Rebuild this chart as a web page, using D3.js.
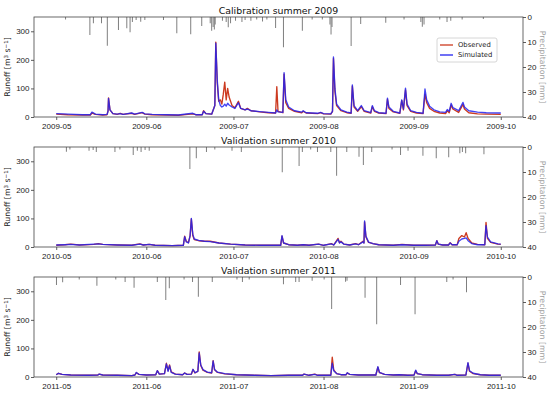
<!DOCTYPE html>
<html lang="en">
<head>
<meta charset="UTF-8">
<style>
  body { margin: 0; background: #fff; }
  svg { font-family: "DejaVu Sans", sans-serif; }
  .axis path { display: none; }
  .axis line { stroke: #333; stroke-width: 0.8px; }
  .axis text { font-size: 8px; fill: #1a1a1a; }
  .line { fill: none; stroke-width: 1.35px; stroke-linejoin: round; }
  .frame { fill: none; stroke: #444; stroke-width: 0.8px; }
  .rain { stroke: #7f7f7f; stroke-width: 1px; }
</style>
</head>
<body>
<svg width="550" height="394"></svg>
<script src="https://cdnjs.cloudflare.com/ajax/libs/d3/7.8.5/d3.min.js"></script>
<script>

// runoff rows: [date "MM-DD HH", observed, simulated]  (m3/s)
var runoff2009 = [
  ["05-01 00",10,12],["05-05 00",8,10],["05-10 00",7,8],["05-12 18",7,8],["05-13 07",14,17],["05-14 12",9,10],
  ["05-17 00",7,8],["05-18 12",8,9],["05-18 20",22,20],["05-19 00",67,65],["05-19 12",25,25],["05-20 12",12,12],
  ["05-22 00",9,10],["05-23 00",13,12],["05-24 00",9,9],["05-27 00",13,14],["05-28 00",9,10],["05-30 14",15,16],
  ["05-31 12",10,11],["06-03 00",8,9],["06-08 00",7,8],["06-12 00",6,7],["06-17 00",11,13],["06-18 00",8,8],
  ["06-20 06",8,8],["06-20 17",22,20],["06-21 12",12,12],["06-23 12",10,10],["06-24 14",40,40],["06-24 22",262,258],
  ["06-25 10",120,130],["06-25 22",55,60],["06-26 12",60,40],["06-27 00",45,35],["06-27 12",80,38],["06-28 00",122,45],
  ["06-28 12",60,38],["06-29 00",100,48],["06-29 12",70,42],["06-30 12",40,35],["07-01 12",32,30],["07-02 17",55,50],
  ["07-03 12",30,30],["07-05 00",25,25],["07-05 19",30,28],["07-07 00",22,22],["07-10 00",18,19],["07-13 00",15,16],
  ["07-15 12",14,14],["07-15 22",106,25],["07-16 08",20,18],["07-18 00",15,16],["07-18 10",150,155],["07-19 00",50,60],
  ["07-20 00",30,35],["07-22 00",20,22],["07-24 12",15,17],["07-25 00",20,22],["07-26 00",14,15],["07-30 00",12,13],
  ["07-31 00",15,16],["08-01 00",11,12],["08-03 12",10,11],["08-04 02",20,20],["08-04 10",205,210],["08-04 22",90,100],
  ["08-05 12",40,45],["08-07 00",22,25],["08-09 00",15,17],["08-10 12",13,14],["08-10 22",108,112],["08-11 12",35,40],
  ["08-12 18",20,22],["08-14 00",36,40],["08-15 00",20,22],["08-17 06",14,15],["08-17 19",36,40],["08-18 12",20,22],
  ["08-20 00",14,15],["08-22 12",12,13],["08-23 00",62,66],["08-23 12",30,35],["08-25 00",18,20],["08-27 06",13,14],
  ["08-27 22",58,60],["08-28 12",25,28],["08-29 05",95,101],["08-29 18",40,45],["08-31 00",20,22],["09-02 00",14,16],
  ["09-04 06",12,13],["09-04 22",80,98],["09-05 12",50,60],["09-06 12",30,38],["09-08 00",20,25],["09-10 00",14,18],
  ["09-12 00",12,16],["09-12 14",22,26],["09-13 06",15,20],["09-13 22",42,48],["09-14 12",28,33],["09-16 12",16,22],
  ["09-18 00",44,51],["09-18 12",28,35],["09-20 00",15,22],["09-23 00",11,17],["09-26 00",10,15],["10-01 00",9,14]
];
var runoff2010 = [
  ["05-01 00",6,7],["05-04 00",8,8],["05-06 00",10,9],["05-09 00",7,7],["05-14 00",9,10],["05-15 12",12,11],
  ["05-17 00",9,9],["05-22 00",7,7],["05-27 00",6,6],["05-29 19",11,10],["05-31 00",7,7],["06-02 00",9,9],
  ["06-04 00",6,6],["06-10 00",5,5],["06-13 18",6,6],["06-14 05",38,36],["06-14 18",20,18],["06-15 12",15,14],
  ["06-16 02",40,40],["06-16 12",98,100],["06-17 00",40,45],["06-17 12",26,28],["06-19 00",22,23],["06-21 00",20,20],
  ["06-23 00",20,19],["06-26 00",14,14],["06-30 00",10,10],["07-05 00",7,7],["07-10 00",6,6],["07-17 06",6,6],
  ["07-17 17",38,40],["07-18 06",14,14],["07-20 00",8,8],["07-23 00",6,6],["07-25 00",8,8],["07-27 00",6,6],
  ["07-30 07",10,10],["08-01 00",6,6],["08-03 17",12,11],["08-04 12",7,7],["08-06 00",30,27],["08-06 12",15,14],
  ["08-07 00",20,18],["08-08 00",10,10],["08-10 00",7,7],["08-12 00",12,11],["08-13 00",8,8],["08-14 14",20,18],
  ["08-14 22",14,14],["08-15 03",88,91],["08-15 14",35,38],["08-16 12",16,17],["08-18 00",12,12],["08-20 00",8,8],
  ["08-25 00",6,6],["08-28 00",9,8],["09-01 00",6,6],["09-05 00",6,6],["09-08 12",7,7],["09-09 00",22,22],
  ["09-09 12",10,10],["09-11 00",7,7],["09-13 00",7,7],["09-13 14",15,14],["09-14 06",8,8],["09-16 00",8,8],
  ["09-16 14",30,20],["09-17 14",40,28],["09-18 12",35,30],["09-19 02",50,32],["09-19 18",30,22],["09-21 00",14,12],
  ["09-23 00",9,8],["09-25 12",8,8],["09-25 22",86,75],["09-26 10",30,35],["09-27 12",16,18],["09-30 00",10,11],
  ["10-01 00",9,10]
];
var runoff2011 = [
  ["05-01 00",8,8],["05-01 18",13,13],["05-03 00",9,9],["05-06 00",7,7],["05-12 00",6,6],["05-15 08",7,7],
  ["05-15 19",10,10],["05-17 00",7,7],["05-22 00",6,6],["05-27 00",5,5],["05-28 02",7,7],["05-28 14",15,16],
  ["05-29 12",9,9],["06-01 00",7,7],["06-04 06",8,8],["06-04 19",22,22],["06-05 12",10,10],["06-07 06",12,12],
  ["06-07 22",48,46],["06-08 12",22,20],["06-09 00",42,40],["06-09 14",18,16],["06-11 00",10,10],["06-13 12",8,8],
  ["06-14 05",14,14],["06-15 00",9,9],["06-16 12",10,10],["06-17 02",26,27],["06-17 18",14,15],["06-18 18",20,20],
  ["06-19 05",88,84],["06-19 18",40,42],["06-20 12",24,26],["06-22 00",16,17],["06-23 12",14,15],["06-24 00",57,56],
  ["06-24 12",25,26],["06-25 12",16,17],["06-28 00",11,12],["07-02 00",8,8],["07-08 00",6,6],["07-14 00",5,5],
  ["07-20 00",6,6],["07-24 18",6,6],["07-25 07",10,10],["07-27 00",6,6],["07-29 00",10,9],["07-30 00",6,6],
  ["08-03 12",6,6],["08-04 00",69,48],["08-04 12",25,22],["08-05 12",12,12],["08-07 00",8,8],["08-08 18",8,8],
  ["08-09 05",14,15],["08-10 00",9,9],["08-13 00",7,7],["08-16 00",7,7],["08-19 00",7,7],["08-19 17",34,36],
  ["08-20 06",15,16],["08-22 00",9,9],["08-25 00",7,7],["08-27 00",8,8],["08-30 00",6,6],["09-01 04",7,7],
  ["09-01 17",22,24],["09-02 06",12,12],["09-04 00",8,8],["09-09 00",6,6],["09-13 00",6,6],["09-15 05",9,9],
  ["09-16 00",6,6],["09-19 00",7,7],["09-19 17",48,50],["09-20 06",20,22],["09-21 12",12,13],["09-24 00",8,8],
  ["09-27 00",6,6],["10-01 00",6,6]
];

// precipitation rows: [date "MM-DD HH", mm]
var precip2009 = [
  ["05-04 05",1],["05-12 14",7.2],["05-13 19",2.5],["05-16 14",2.5],["05-18 14",11.5],["05-22 10",5.2],["05-25 07",4.5],
  ["05-26 10",6.1],["05-27 05",2],["05-28 12",1.2],["05-30 02",1.9],["05-31 12",1.2],["06-06 22",1.2],["06-11 12",6.5],
  ["06-16 07",6.9],["06-20 02",3.6],["06-23 00",2.5],["06-23 12",5.5],["06-24 00",4],["06-24 10",5],["06-24 17",3],
  ["06-27 05",1.5],["06-28 12",2],["06-29 05",4.1],["06-30 00",2.5],["07-01 17",1.5],["07-03 22",2],["07-05 00",1.2],
  ["07-07 00",1.5],["07-09 00",1],["07-11 00",1.8],["07-12 12",1],["07-15 12",4.4],["07-18 05",12.1],["07-24 17",5.5],
  ["07-28 02",1],["07-31 14",1],["08-03 05",3],["08-03 14",7],["08-03 22",4],["08-10 12",11.6],["08-13 19",2.8],
  ["08-22 10",2.3],["08-28 17",1],["09-03 12",2],["09-04 00",3.9],["09-04 14",3],["09-10 00",1],["09-12 12",2],
  ["09-13 19",1.5],["09-17 17",1],["09-25 00",0.8]
];
var precip2010 = [
  ["05-04 12",1.9],["05-05 17",1],["05-12 07",1.5],["05-13 17",1.2],["05-14 19",2],["05-21 05",2],["05-22 22",1],
  ["05-27 12",3.2],["05-28 22",1.5],["05-30 05",2],["05-31 14",1.2],["06-02 00",1.5],["06-16 00",8.8],["06-18 05",4.5],
  ["06-21 17",2],["06-24 14",1],["06-30 12",1.5],["07-03 17",2],["07-17 19",10.1],["07-23 14",7.6],["07-24 17",2],
  ["07-27 14",1],["07-29 22",2],["08-03 12",2],["08-05 12",11.5],["08-09 00",2],["08-13 05",3.9],["08-14 17",7.2],
  ["08-17 14",2],["08-24 14",1],["08-27 12",3.2],["08-30 02",1.5],["09-04 05",3.5],["09-08 19",4.5],["09-13 02",4.1],
  ["09-16 22",2.5],["09-17 19",2],["09-18 22",2.5],["09-25 05",2.9]
];
var precip2011 = [
  ["05-01 02",3.2],["05-03 05",2.1],["05-08 22",1],["05-15 00",3.5],["05-21 12",1],["05-24 17",2],["05-27 19",4.3],
  ["06-04 19",2],["06-07 17",9.2],["06-08 22",4.5],["06-14 00",1],["06-16 22",2],["06-18 22",7.9],["06-23 17",2],
  ["07-02 05",1],["07-04 02",2],["07-06 10",1],["07-18 05",2.9],["07-22 10",2],["07-23 14",2],["07-28 02",1.5],
  ["08-01 05",1],["08-03 19",12.8],["08-08 14",1.9],["08-09 02",1.5],["08-15 07",8.3],["08-19 07",18.9],["08-27 12",3.2],
  ["09-01 12",14.9],["09-12 10",2],["09-14 14",1],["09-19 05",6.1]
];

var titles = ["Calibration summer 2009", "Validation summer 2010", "Validation summer 2011"];
var years = [2009, 2010, 2011];
var runoffs = [runoff2009, runoff2010, runoff2011];
var precips = [precip2009, precip2010, precip2011];
var runoffTicks = [0, 100, 200, 300];
var precipTicks = [0, 10, 20, 30, 40];
var seriesNames = ["Observed", "Simulated"];

var obsColor = "#cc3a20", simColor = "#2222f0";

var svg = d3.select("svg"),
    margin = {left: 34, right: 27},
    width = +svg.attr("width") - margin.left - margin.right,
    panelH = 100,
    panelTops = [17, 147, 277];

var parse = d3.timeParse("%Y-%m-%d %H");

years.forEach(function(year, i) {
    var g = svg.append("g").attr("transform", "translate(" + margin.left + "," + panelTops[i] + ")");

    var start = parse(year + "-05-01 00"), end = parse(year + "-10-01 00");
    var pad = (end - start) * 0.05;

    var x = d3.scaleTime().domain([new Date(+start - pad), new Date(+end + pad)]).range([0, width]),
        y = d3.scaleLinear().domain([0, 350]).range([panelH, 0]),
        yP = d3.scaleLinear().domain([0, 40]).range([0, panelH]);

    var rows = runoffs[i].map(function(r) { return {date: parse(year + "-" + r[0]), obs: r[1], sim: r[2]}; });
    var rain = precips[i].map(function(r) { return {date: parse(year + "-" + r[0]), mm: r[1]}; });

    // precipitation hanging from the top
    g.selectAll(".rain").data(rain).enter().append("line")
        .attr("class", "rain")
        .attr("x1", function(d) { return x(d.date); })
        .attr("x2", function(d) { return x(d.date); })
        .attr("y1", yP(0))
        .attr("y2", function(d) { return yP(d.mm); });

    var lineObs = d3.line().x(function(d) { return x(d.date); }).y(function(d) { return y(d.obs); });
    var lineSim = d3.line().x(function(d) { return x(d.date); }).y(function(d) { return y(d.sim); });

    g.append("path").datum(rows).attr("class", "line")
        .style("stroke", obsColor).attr("d", lineObs);
    g.append("path").datum(rows).attr("class", "line")
        .style("stroke", simColor).style("stroke-opacity", 0.85).attr("d", lineSim);

    // axes
    g.append("g").attr("class", "axis")
        .attr("transform", "translate(0," + panelH + ")")
        .call(d3.axisBottom(x)
            .tickValues(d3.timeMonth.range(start, new Date(+end + 1)))
            .tickFormat(d3.timeFormat("%Y-%m"))
            .tickSize(3).tickPadding(3));

    g.append("g").attr("class", "axis")
        .call(d3.axisLeft(y).tickValues(runoffTicks).tickSize(3).tickPadding(1.5));

    g.append("g").attr("class", "axis")
        .attr("transform", "translate(" + width + ",0)")
        .call(d3.axisRight(yP).tickValues(precipTicks).tickSize(3).tickPadding(1.5));

    g.append("rect").attr("class", "frame")
        .attr("width", width).attr("height", panelH);

    // title
    g.append("text")
        .attr("x", width / 2).attr("y", -3)
        .attr("text-anchor", "middle")
        .style("font-size", "9.4px").style("fill", "#111")
        .text(titles[i]);

    // left label
    var yl = g.append("text")
        .attr("transform", "translate(-24," + (panelH / 2) + ") rotate(-90)")
        .attr("text-anchor", "middle")
        .style("font-size", "7.8px").style("fill", "#222");
    yl.append("tspan").text("Runoff [m");
    yl.append("tspan").attr("dy", -2.5).style("font-size", "5.5px").text("3");
    yl.append("tspan").attr("dy", 2.5).text(" s");
    yl.append("tspan").attr("dy", -2.5).style("font-size", "5.5px").text("\u22121");
    yl.append("tspan").attr("dy", 2.5).text("]");

    // right label
    g.append("text")
        .attr("transform", "translate(" + (width + 17) + "," + (panelH / 2) + ") rotate(90)")
        .attr("text-anchor", "middle")
        .style("font-size", "7.8px").style("fill", "#a0a0a0")
        .text("Precipitation [mm]");

    // legend only in the first panel
    if (i === 0) {
        var lg = g.append("g").attr("transform", "translate(403,21)");
        lg.append("rect")
            .attr("width", 60).attr("height", 24).attr("rx", 2)
            .style("fill", "#fff").style("fill-opacity", 0.8)
            .style("stroke", "#ccc").style("stroke-width", 0.8);
        seriesNames.forEach(function(name, k) {
            var yy = 7 + k * 10;
            lg.append("line")
                .attr("x1", 3).attr("x2", 16).attr("y1", yy).attr("y2", yy)
                .style("stroke", k === 0 ? obsColor : simColor).style("stroke-width", 1.3);
            lg.append("text")
                .attr("x", 21).attr("y", yy).attr("dy", "0.35em")
                .style("font-size", "6.8px").style("fill", "#222")
                .text(name);
        });
    }
});
</script>
</body>
</html>
